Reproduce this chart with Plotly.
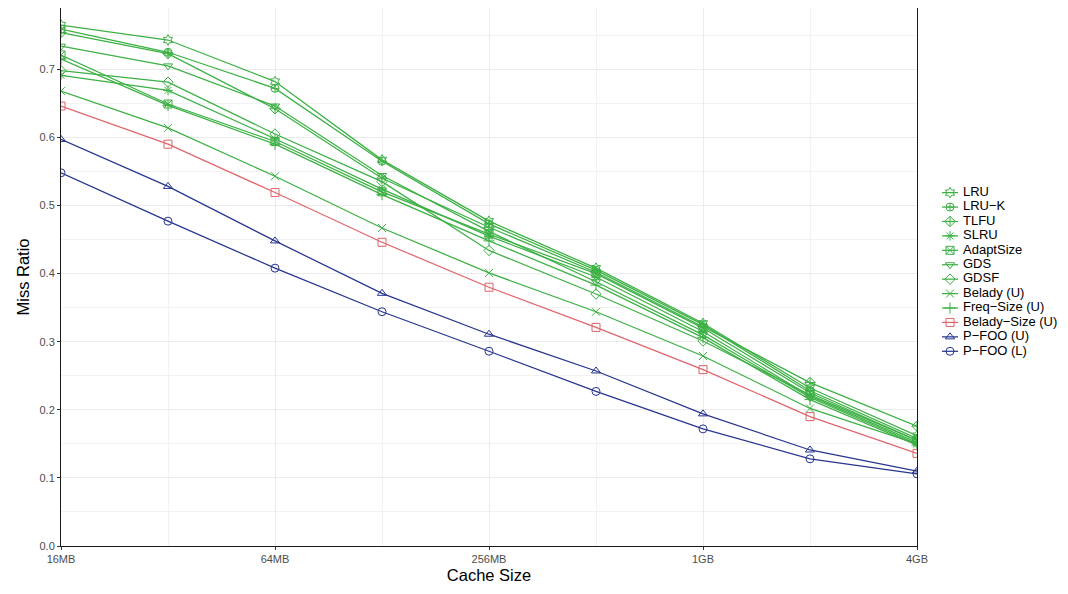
import plotly.graph_objects as go

cache_mb = [16, 32, 64, 128, 256, 512, 1024, 2048, 4096]
tick_vals = [16, 64, 256, 1024, 4096]
tick_text = ["16MB", "64MB", "256MB", "1GB", "4GB"]
minor_vals = [32, 128, 512, 2048]

names = ["LRU", "LRU\u2212K", "TLFU", "SLRU", "AdaptSize", "GDS", "GDSF",
         "Belady (U)", "Freq\u2212Size (U)", "Belady\u2212Size (U)", "P\u2212FOO (U)", "P\u2212FOO (L)"]

lru        = [0.765, 0.743, 0.682, 0.567, 0.477, 0.408, 0.327, 0.232, 0.162]
lru_k      = [0.759, 0.725, 0.672, 0.565, 0.473, 0.405, 0.325, 0.228, 0.158]
tlfu       = [0.754, 0.723, 0.642, 0.540, 0.468, 0.402, 0.322, 0.240, 0.176]
slru       = [0.691, 0.669, 0.598, 0.524, 0.455, 0.395, 0.315, 0.220, 0.152]
adaptsize  = [0.721, 0.649, 0.594, 0.520, 0.458, 0.400, 0.320, 0.225, 0.155]
gds        = [0.734, 0.705, 0.646, 0.544, 0.462, 0.388, 0.310, 0.218, 0.150]
gdsf       = [0.698, 0.681, 0.605, 0.535, 0.434, 0.370, 0.301, 0.222, 0.155]
belady_u   = [0.668, 0.614, 0.543, 0.467, 0.401, 0.344, 0.279, 0.202, 0.150]
freqsize_u = [0.715, 0.647, 0.590, 0.516, 0.448, 0.383, 0.306, 0.215, 0.148]
beladysize = [0.646, 0.590, 0.519, 0.446, 0.380, 0.321, 0.259, 0.190, 0.136]
pfoo_u     = [0.597, 0.528, 0.448, 0.371, 0.311, 0.257, 0.194, 0.141, 0.110]
pfoo_l     = [0.548, 0.477, 0.408, 0.344, 0.286, 0.227, 0.172, 0.128, 0.106]

series = [lru, lru_k, tlfu, slru, adaptsize, gds, gdsf, belady_u, freqsize_u,
          beladysize, pfoo_u, pfoo_l]

GREEN = "#3cb044"
RED = "#e0656a"
NAVY = "#27358f"
colors = [GREEN] * 9 + [RED, NAVY, NAVY]
symbols = ["hexagram-open", "circle-cross-open", "diamond-cross-open", "asterisk-open",
           "square-x-open", "triangle-down-open", "diamond-open", "x-thin-open",
           "cross-thin-open", "square-open", "triangle-up-open", "circle-open"]

# The page body adds an 8px margin, so the figure is sized/offset to compensate.
W, H = 1060, 586
ML, MR, MT, MB = 53, 2, 0, 47.5
PANEL_RIGHT = 909
plot_w = W - ML - MR
main_end = (PANEL_RIGHT - ML) / plot_w
legend_w = W - MR - PANEL_RIGHT  # pixel-unit range for the legend axis

fig = go.Figure()
for name, ys, c, s in zip(names, series, colors, symbols):
    fig.add_trace(go.Scatter(
        x=cache_mb, y=ys, name=name, mode="lines+markers",
        line=dict(color=c, width=1.25),
        marker=dict(symbol=s, size=8, color=c, line=dict(color=c, width=1)),
        showlegend=False,
    ))

# ---- manual legend (ggplot-style compact keys) on an auxiliary axis pair ----
rows = list(range(len(names)))
KEY_L, KEY_R, TXT_X = 25, 41, 46
for i, (name, c, s) in enumerate(zip(names, colors, symbols)):
    fig.add_trace(go.Scatter(
        x=[KEY_L, KEY_R], y=[i, i], mode="lines", line=dict(color=c, width=1.25),
        xaxis="x2", yaxis="y2", showlegend=False, hoverinfo="skip"))
    fig.add_trace(go.Scatter(
        x=[(KEY_L + KEY_R) / 2], y=[i], mode="markers",
        marker=dict(symbol=s, size=8, color=c, line=dict(color=c, width=1)),
        xaxis="x2", yaxis="y2", showlegend=False, hoverinfo="skip", cliponaxis=False))
fig.add_trace(go.Scatter(
    x=[TXT_X] * len(names), y=rows, text=names, mode="text",
    textposition="middle right",
    textfont=dict(size=13, color="black", family="Liberation Sans, Arial, sans-serif"),
    xaxis="x2", yaxis="y2", showlegend=False, hoverinfo="skip", cliponaxis=False))

fig.update_layout(
    width=W, height=H,
    margin=dict(l=ML, r=MR, t=MT, b=MB, pad=0),
    paper_bgcolor="white", plot_bgcolor="white",
    font=dict(family="Liberation Sans, Arial, sans-serif", color="black"),
    showlegend=False,
    xaxis2=dict(domain=[main_end, 1.0], range=[0, legend_w], visible=False,
                anchor="y2", fixedrange=True),
    yaxis2=dict(domain=[0, 1], range=[24.5, -12.8], visible=False,
                anchor="x2", fixedrange=True),
)
fig.layout.xaxis.update(
    domain=[0, main_end],
    type="log", range=[1.20412, 3.61236],
    tickvals=tick_vals, ticktext=tick_text,
    tickfont=dict(size=11, color="#4d4d4d"),
    ticks="outside", ticklen=3, tickcolor="#333333",
    showgrid=True, gridcolor="#ebebeb", gridwidth=1.1,
    minor=dict(tickvals=minor_vals, showgrid=True, gridcolor="#f2f2f2", gridwidth=0.6, ticks=""),
    showline=True, linecolor="#1a1a1a", linewidth=1, mirror=True,
    zeroline=False, automargin=False,
    title=dict(text="Cache Size", font=dict(size=16.5, color="black"), standoff=5),
)
fig.layout.yaxis.update(
    range=[0, 0.79],
    tickvals=[0, 0.1, 0.2, 0.3, 0.4, 0.5, 0.6, 0.7],
    ticktext=["0.0", "0.1", "0.2", "0.3", "0.4", "0.5", "0.6", "0.7"],
    tickfont=dict(size=11, color="#4d4d4d"),
    ticks="outside", ticklen=3, tickcolor="#333333",
    showgrid=True, gridcolor="#ebebeb", gridwidth=1.1,
    minor=dict(tickvals=[0.05, 0.15, 0.25, 0.35, 0.45, 0.55, 0.65, 0.75],
               showgrid=True, gridcolor="#f2f2f2", gridwidth=0.6, ticks=""),
    showline=True, linecolor="#1a1a1a", linewidth=1, mirror=True,
    zeroline=False, automargin=False,
    title=dict(text="Miss Ratio", font=dict(size=16.5, color="black"), standoff=5),
)

fig.write_html("out.html")
